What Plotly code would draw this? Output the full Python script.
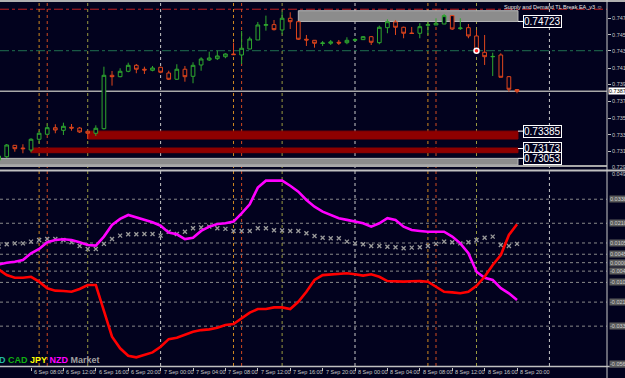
import pandas as pd
import plotly.graph_objects as go

W, H = 625, 378
BG = "#02021e"
GREEN = "#2fa82f"
RED = "#e0461c"

# ---------------- data ----------------
times = pd.date_range("2017-09-06 04:00", periods=65, freq="h")

open_p = [0.73033, 0.73073, 0.73212, 0.73179, 0.73155, 0.73286, 0.73347, 0.73427, 0.73395, 0.73432,
          0.73423, 0.73383, 0.73359, 0.73415, 0.74066, 0.74049, 0.74115, 0.74188, 0.74140, 0.74127,
          0.74164, 0.74094, 0.74018, 0.74140, 0.74054, 0.74192, 0.74253, 0.74269, 0.74293, 0.74326,
          0.74314, 0.74387, 0.74497, 0.74676, 0.74684, 0.74619, 0.74762, 0.74720, 0.74506, 0.74493,
          0.74454, 0.74457, 0.74469, 0.74464, 0.74493, 0.74501, 0.74537, 0.74464, 0.74647, 0.74717,
          0.74652, 0.74582, 0.74579, 0.74676, 0.74680, 0.74692, 0.74794, 0.74635, 0.74647, 0.74546,
          0.74347, 0.74292, 0.74314, 0.74049, 0.73893]
high_p = [0.73094, 0.73228, 0.73216, 0.73225, 0.73298, 0.73387, 0.73481, 0.73469, 0.73488, 0.73472,
          0.73436, 0.73387, 0.73456, 0.74171, 0.74119, 0.74152, 0.74220, 0.74204, 0.74171, 0.74180,
          0.74171, 0.74122, 0.74201, 0.74180, 0.74225, 0.74286, 0.74354, 0.74367, 0.74335, 0.74464,
          0.74607, 0.74537, 0.74717, 0.74794, 0.74741, 0.74839, 0.74835, 0.74729, 0.74558, 0.74497,
          0.74485, 0.74497, 0.74497, 0.74530, 0.74518, 0.74546, 0.74546, 0.74672, 0.74750, 0.74741,
          0.74659, 0.74656, 0.74701, 0.74720, 0.74762, 0.74814, 0.74802, 0.74762, 0.74692, 0.74619,
          0.74558, 0.74342, 0.74335, 0.74058, 0.73896]
low_p = [0.73021, 0.73057, 0.73134, 0.73115, 0.73127, 0.73237, 0.73338, 0.73359, 0.73338, 0.73390,
         0.73362, 0.73289, 0.73326, 0.73405, 0.73940, 0.74042, 0.74103, 0.74091, 0.74082, 0.74115,
         0.74091, 0.74009, 0.74009, 0.73988, 0.73969, 0.74122, 0.74241, 0.74253, 0.74274, 0.74314,
         0.74204, 0.74384, 0.74497, 0.74611, 0.74613, 0.74567, 0.74631, 0.74497, 0.74424, 0.74403,
         0.74424, 0.74436, 0.74436, 0.74445, 0.74476, 0.74497, 0.74436, 0.74445, 0.74579, 0.74558,
         0.74518, 0.74570, 0.74518, 0.74558, 0.74680, 0.74689, 0.74619, 0.74619, 0.74518, 0.74335,
         0.74192, 0.74058, 0.74042, 0.73866, 0.73847]
close_p = [0.73082, 0.73216, 0.73171, 0.73171, 0.73286, 0.73359, 0.73427, 0.73399, 0.73444, 0.73423,
           0.73375, 0.73359, 0.73420, 0.74066, 0.74049, 0.74115, 0.74188, 0.74140, 0.74131, 0.74155,
           0.74103, 0.74018, 0.74140, 0.74049, 0.74188, 0.74265, 0.74277, 0.74302, 0.74326, 0.74318,
           0.74396, 0.74509, 0.74680, 0.74684, 0.74623, 0.74762, 0.74720, 0.74506, 0.74497, 0.74457,
           0.74460, 0.74473, 0.74460, 0.74493, 0.74501, 0.74537, 0.74469, 0.74652, 0.74720, 0.74652,
           0.74579, 0.74576, 0.74659, 0.74684, 0.74701, 0.74794, 0.74631, 0.74643, 0.74546, 0.74354,
           0.74293, 0.74296, 0.74042, 0.73896, 0.73871]

nzd = [-0.0010, 0.0000, 0.0005, 0.0014, 0.0050, 0.0073, 0.0109, 0.0121, 0.0125, 0.0121,
       0.0109, 0.0094, 0.0091, 0.0139, 0.0201, 0.0233, 0.0254, 0.0242, 0.0228, 0.0215,
       0.0197, 0.0160, 0.0151, 0.0126, 0.0133, 0.0169, 0.0192, 0.0206, 0.0210, 0.0219,
       0.0263, 0.0311, 0.0400, 0.0437, 0.0437, 0.0437, 0.0410, 0.0378, 0.0334, 0.0298,
       0.0272, 0.0254, 0.0237, 0.0228, 0.0219, 0.0210, 0.0192, 0.0210, 0.0237, 0.0228,
       0.0192, 0.0174, 0.0169, 0.0165, 0.0165, 0.0165, 0.0139, 0.0103, 0.0050, -0.0048,
       -0.0080, -0.0092, -0.0136, -0.0163, -0.0199]
red_ccy = [-0.0036, -0.0066, -0.0080, -0.0080, -0.0075, -0.0101, -0.0136, -0.0149, -0.0151, -0.0155,
           -0.0140, -0.0119, -0.0119, -0.0261, -0.0394, -0.0456, -0.0496, -0.0504, -0.0492, -0.0478,
           -0.0448, -0.0407, -0.0400, -0.0382, -0.0368, -0.0359, -0.0355, -0.0346, -0.0332, -0.0327,
           -0.0296, -0.0266, -0.0247, -0.0247, -0.0238, -0.0238, -0.0247, -0.0208, -0.0155, -0.0092,
           -0.0066, -0.0062, -0.0056, -0.0056, -0.0062, -0.0069, -0.0062, -0.0075, -0.0098, -0.0101,
           -0.0101, -0.0099, -0.0098, -0.0101, -0.0128, -0.0155, -0.0158, -0.0163, -0.0155, -0.0123,
           -0.0075, -0.0012, 0.0041, 0.0148, 0.0205]
market = [0.0086, 0.0098, 0.0103, 0.0103, 0.0112, 0.0121, 0.0126, 0.0126, 0.0121, 0.0109,
          0.0089, 0.0073, 0.0073, 0.0100, 0.0126, 0.0144, 0.0151, 0.0151, 0.0153, 0.0153,
          0.0144, 0.0165, 0.0153, 0.0165, 0.0183, 0.0187, 0.0192, 0.0183, 0.0180, 0.0169,
          0.0169, 0.0169, 0.0183, 0.0183, 0.0173, 0.0171, 0.0169, 0.0169, 0.0157, 0.0142,
          0.0133, 0.0130, 0.0130, 0.0112, 0.0103, 0.0098, 0.0089, 0.0089, 0.0085, 0.0082,
          0.0077, 0.0080, 0.0082, 0.0089, 0.0100, 0.0112, 0.0109, 0.0103, 0.0109, 0.0121,
          0.0133, 0.0139, 0.0094, 0.0089, 0.0100]

price_ticks = [0.74765, 0.74560, 0.74365, 0.74155, 0.73955, 0.73750, 0.73545, 0.73340, 0.73140]
price_tick_labels = ["0.74765", "0.74560", "0.74365", "0.74155", "0.73955", "0.73750", "0.73545", "0.73340", "0.73140"]
current_price = 0.73871
red_dashdot_level = 0.74872
green_dashdot_level = 0.74366

zone_low = [0.74723, 0.73289, 0.73122, 0.72972]
zone_high = [0.74854, 0.73385, 0.73179, 0.73053]
zone_start = ["2017-09-07 17:00", "2017-09-06 15:00", "2017-09-06 08:00", "2017-09-06 02:00"]
zone_label = ["0.74723", "0.73385", "0.73173", "0.73053"]
zone_label_price = [0.74723, 0.73385, 0.73173, 0.73053]
zone_fill = ["#8c8c8c", "#8e0000", "#8e0000", "#8c8c8c"]
zone_edge = ["#b8b8b8", "#8e0000", "#8e0000", "#b8b8b8"]

level_vals = [0.0338, 0.0210, 0.0105, 0.0045, 0.0, -0.0045, -0.0105, -0.0210, -0.0338]
level_labels = ["0.0338", "0.0210", "0.0105", "0.0045", "0.0000", "-0.0045", "-0.0105", "-0.0210", "-0.0338"]

x_tick_times = pd.date_range("2017-09-06 04:00", "2017-09-08 20:00", freq="4h")
x_tick_labels = ["6 Sep 04:00", "6 Sep 08:00", "6 Sep 12:00", "6 Sep 16:00", "6 Sep 20:00",
                 "7 Sep 00:00", "7 Sep 04:00", "7 Sep 08:00", "7 Sep 12:00", "7 Sep 16:00", "7 Sep 20:00",
                 "8 Sep 00:00", "8 Sep 04:00", "8 Sep 08:00", "8 Sep 12:00", "8 Sep 16:00", "8 Sep 20:00"]

day_lines = ["2017-09-07 00:00", "2017-09-08 00:00", "2017-09-09 00:00"]
session_a = ["2017-09-06 09:00", "2017-09-07 09:00", "2017-09-08 09:00"]
session_b = ["2017-09-06 10:00", "2017-09-07 10:00", "2017-09-08 10:00"]
session_c = ["2017-09-06 15:00", "2017-09-07 15:00", "2017-09-08 15:00"]

signal_time = ["2017-09-08 15:00"]
signal_price = [0.74366]

# ---------------- layout helpers ----------------
T0 = pd.Timestamp("2017-09-06 08:00")
def th(h):
    return str(T0 + pd.Timedelta(hours=h))

def px(x):
    return x / W

def py(y):
    return 1 - y / H

X_END = 607
zone_end = th(60.12)
label_x = th(60.75)

fig = go.Figure()

fig.add_trace(go.Candlestick(
    x=times, open=open_p, high=high_p, low=low_p, close=close_p,
    increasing=dict(line=dict(color=GREEN, width=1), fillcolor=BG),
    decreasing=dict(line=dict(color=RED, width=1), fillcolor=BG),
    whiskerwidth=0, xaxis="x", yaxis="y", showlegend=False, hoverinfo="skip"))

fig.add_trace(go.Scatter(x=signal_time, y=signal_price, mode="markers", xaxis="x", yaxis="y",
                         marker=dict(color="#ff2020", size=5, line=dict(color="white", width=1.5))))

fig.add_trace(go.Scatter(x=times, y=market, mode="markers", xaxis="x", yaxis="y2",
                         marker=dict(symbol="x-thin-open", size=4, color="#9a9a9a",
                                     line=dict(color="#9a9a9a", width=1.3))))
fig.add_trace(go.Scatter(x=times, y=nzd, mode="lines", xaxis="x", yaxis="y2",
                         line=dict(color="#ff00ff", width=2.6)))
fig.add_trace(go.Scatter(x=times, y=red_ccy, mode="lines", xaxis="x", yaxis="y2",
                         line=dict(color="#ff0000", width=2.6)))

shapes = []
# zones
for lo, hi, x0, fc, ec in zip(zone_low, zone_high, zone_start, zone_fill, zone_edge):
    shapes.append(dict(type="rect", xref="x", yref="y", x0=x0, x1=zone_end, y0=lo, y1=hi,
                       fillcolor=fc, line=dict(color=ec, width=1), layer="below"))
for p in zone_label_price:
    shapes.append(dict(type="line", xref="x", yref="y", x0=zone_end, x1=label_x, y0=p, y1=p,
                       line=dict(color="white", width=1)))

# horizontal price levels
shapes.append(dict(type="line", xref="paper", yref="y", x0=0, x1=px(X_END), y0=red_dashdot_level,
                   y1=red_dashdot_level, line=dict(color="#c02020", width=1, dash="dashdot"), layer="below"))
shapes.append(dict(type="line", xref="paper", yref="y", x0=0, x1=px(X_END), y0=green_dashdot_level,
                   y1=green_dashdot_level, line=dict(color="#207050", width=1, dash="dashdot"), layer="below"))
shapes.append(dict(type="line", xref="paper", yref="y", x0=0, x1=px(X_END), y0=current_price,
                   y1=current_price, line=dict(color="#a8a8a8", width=1.5), layer="below"))

# oscillator levels
for v in level_vals:
    shapes.append(dict(type="line", xref="paper", yref="y2", x0=0, x1=px(X_END), y0=v, y1=v,
                       line=dict(color="#8a8a8a", width=1, dash="dot"), layer="below"))

# vertical lines
for t in day_lines:
    shapes.append(dict(type="line", xref="x", yref="paper", x0=t, x1=t, y0=py(366), y1=py(3),
                       line=dict(color="#c8c8c8", width=1, dash="dot"), layer="below"))
for t in session_a:
    shapes.append(dict(type="line", xref="x", yref="paper", x0=t, x1=t, y0=py(366), y1=py(3),
                       line=dict(color="#d08a20", width=1, dash="dot"), layer="below"))
for t in session_b:
    shapes.append(dict(type="line", xref="x", yref="paper", x0=t, x1=t, y0=py(366), y1=py(3),
                       line=dict(color="#d04a20", width=1, dash="dot"), layer="below"))
for t in session_c:
    shapes.append(dict(type="line", xref="x", yref="paper", x0=t, x1=t, y0=py(366), y1=py(3),
                       line=dict(color="#9a9a40", width=1, dash="dot"), layer="below"))

# frame lines
shapes += [
    dict(type="line", xref="paper", yref="paper", x0=0, x1=1, y0=py(1), y1=py(1),
         line=dict(color="#b0b0b0", width=2)),
    dict(type="line", xref="paper", yref="paper", x0=0, x1=px(X_END), y0=py(166), y1=py(166),
         line=dict(color="#a8a8a8", width=2)),
    dict(type="line", xref="paper", yref="paper", x0=0, x1=1, y0=py(170.5), y1=py(170.5),
         line=dict(color="#c0c0c0", width=2)),
    dict(type="line", xref="paper", yref="paper", x0=0, x1=1, y0=py(366.5), y1=py(366.5),
         line=dict(color="#c0c0c0", width=1.5)),
    dict(type="line", xref="paper", yref="paper", x0=px(X_END), x1=px(X_END), y0=0, y1=1,
         line=dict(color="#c8c8c8", width=1)),
]

annotations = []
for txt, p in zip(zone_label, zone_label_price):
    annotations.append(dict(x=label_x, y=p, xref="x", yref="y", text=txt, showarrow=False,
                            xanchor="left", yanchor="middle", bgcolor=BG, bordercolor="white",
                            borderwidth=1, borderpad=0,
                            font=dict(family="Liberation Sans", size=10, color="white")))

annotations.append(dict(x=px(X_END + 1), y=current_price, xref="paper", yref="y", text="0.73871",
                        showarrow=False, xanchor="left", yanchor="middle", bgcolor="white",
                        borderpad=0, font=dict(family="Liberation Sans", size=5.5, color="#000000")))
annotations.append(dict(x=px(X_END + 3), y=py(166.5), xref="paper", yref="paper", text="0.72935",
                        showarrow=False, xanchor="left", yanchor="middle",
                        font=dict(family="Liberation Sans", size=5.5, color="#c8c8c8")))
annotations.append(dict(x=px(X_END + 3), y=py(174), xref="paper", yref="paper", text="0.0491",
                        showarrow=False, xanchor="left", yanchor="middle",
                        font=dict(family="Liberation Sans", size=5.5, color="#c8c8c8")))
annotations.append(dict(x=px(X_END + 2), y=py(364), xref="paper", yref="paper", text="-0.0563",
                        showarrow=False, xanchor="left", yanchor="middle", bgcolor="#5a5a5a",
                        borderpad=0, font=dict(family="Liberation Sans", size=5.5, color="#d0d0d0")))
for v, txt in zip(level_vals, level_labels):
    annotations.append(dict(x=px(X_END + 2), y=v, xref="paper", yref="y2", text=txt,
                            showarrow=False, xanchor="left", yanchor="middle", bgcolor="#5a5a5a",
                            borderpad=0, font=dict(family="Liberation Sans", size=5.5, color="#d0d0d0")))

for t, txt in zip(x_tick_times, x_tick_labels):
    annotations.append(dict(x=str(t), y=py(371.5), xref="x", yref="paper", text=txt,
                            showarrow=False, xanchor="left", yanchor="middle", xshift=1,
                            font=dict(family="Liberation Sans", size=5.5, color="#c8c8c8")))

annotations.append(dict(x=px(604), y=py(6.5), xref="paper", yref="paper",
                        text="Supply and Demand TL Break EA_v3 \u263a", showarrow=False,
                        xanchor="right", yanchor="middle",
                        font=dict(family="Liberation Sans", size=5.5, color="#e8e8e8")))

legend_html = ("<b><span style='color:#20b8a0'>D</span> "
               "<span style='color:#10b010'>CAD</span> "
               "<span style='color:#ffff00'>JPY</span> "
               "<span style='color:#ff00ff'>NZD</span> "
               "<span style='color:#a0a0a0'>Market</span></b>")
annotations.append(dict(x=px(-3), y=py(360), xref="paper", yref="paper", text=legend_html,
                        showarrow=False, xanchor="left", yanchor="middle",
                        font=dict(family="Liberation Sans", size=9)))

fig.update_layout(
    template="none",
    width=W, height=H,
    margin=dict(l=0, r=0, t=0, b=0),
    paper_bgcolor=BG, plot_bgcolor=BG,
    showlegend=False,
    boxgap=0.35,
    xaxis=dict(domain=[0, px(X_END)], range=[th(-3.83), th(71.11)], anchor="y2",
               showgrid=False, zeroline=False, showticklabels=False, showline=False,
               ticks="outside", tickvals=list(x_tick_times), ticklen=3, tickcolor="#c0c0c0",
               rangeslider=dict(visible=False), automargin=False),
    yaxis=dict(domain=[py(165), py(3)], range=[0.72972, 0.74948], side="right", anchor="x",
               showgrid=False, zeroline=False, showline=False,
               tickvals=price_ticks, ticktext=price_tick_labels, ticks="outside", ticklen=3,
               tickcolor="#c0c0c0", tickfont=dict(family="Liberation Sans", size=5.5, color="#c8c8c8"),
               automargin=False),
    yaxis2=dict(domain=[py(366.7), py(172)], range=[-0.0554, 0.0483], anchor="x",
                showgrid=False, zeroline=False, showticklabels=False, showline=False,
                automargin=False),
    shapes=shapes,
    annotations=annotations,
)

fig.write_html("out.html")
